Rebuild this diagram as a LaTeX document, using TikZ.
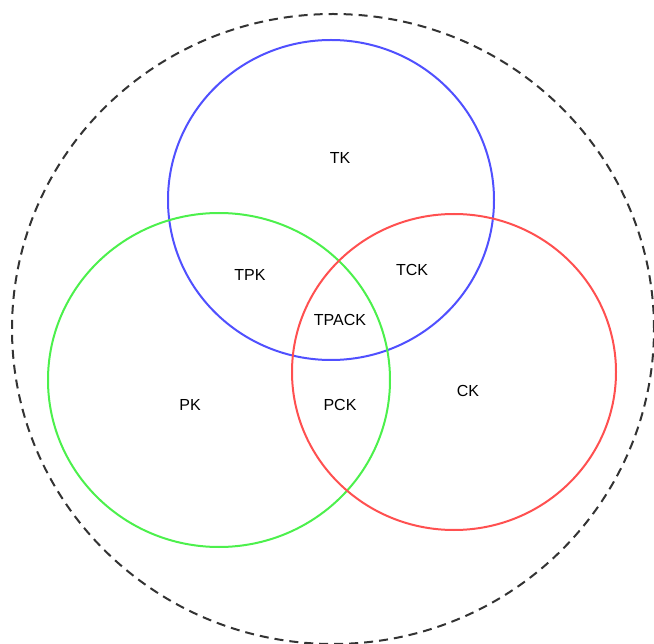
\documentclass[tikz,border=0pt]{standalone}
\usepackage{fontspec}
\setmainfont{Liberation Sans}
\usetikzlibrary{shapes.geometric}
\definecolor{tkblue}{HTML}{5050FF}
\definecolor{pkgreen}{HTML}{4CF04C}
\definecolor{ckred}{HTML}{FF5050}
\definecolor{outline}{HTML}{333333}

\begin{document}
\begin{tikzpicture}[
          x=1pt,y=-1pt,
          knowset/.style={
            ellipse,
            draw,
            line width=2pt,
            inner sep=0pt
          },
          lbl/.style={font=\fontsize{16}{19}\selectfont, text=black}
        ]
        \useasboundingbox (0,0) rectangle (654,644);
        \node[knowset,draw=outline,dash pattern=on 9pt off 6pt,
              minimum width=642pt,minimum height=630pt] (ctx) at (333,329) {};
        \node[knowset,draw=tkblue,minimum width=326pt,minimum height=320pt] (tk) at (331,200) {};
        \node[knowset,draw=pkgreen,minimum width=342pt,minimum height=334pt] (pk) at (219,380) {};
        \node[knowset,draw=ckred,minimum width=324pt,minimum height=316pt] (ck) at (454,372) {};
        \node[lbl] (tklbl) at (340,158) {TK};
        \node[lbl] (tpk) at (250,275) {TPK};
        \node[lbl] (tck) at (412,270) {TCK};
        \node[lbl] (tpack) at (340,320) {TPACK};
        \node[lbl] (pklbl) at (190,405) {PK};
        \node[lbl] (pck) at (340,405) {PCK};
        \node[lbl] (cklbl) at (468,391) {CK};
      \end{tikzpicture}
\end{document}
